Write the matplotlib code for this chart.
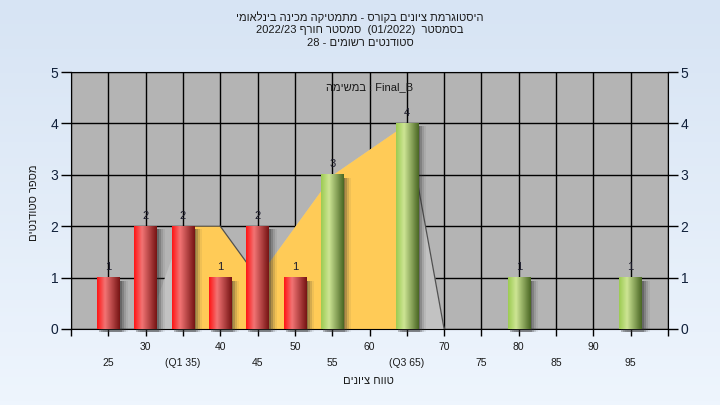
import re
import matplotlib
matplotlib.use('Agg')
import matplotlib.pyplot as plt
import numpy as np
from matplotlib.colors import LinearSegmentedColormap
from matplotlib.patches import Rectangle
from matplotlib.transforms import offset_copy

plt.rcParams['font.family'] = ['Liberation Sans', 'DejaVu Sans']

# --- data ---
title_lines = ["היסטוגרמת ציונים בקורס - מתמטיקה מכינה בינלאומי",
               "בסמסטר  (01/2022)  סמסטר חורף 2022/23",
               "סטודנטים רשומים - 28"]
series_name = "Final_B"
legend_prefix = "במשימה"
x_title = "טווח ציונים"
y_title = "מספר סטודנטים"

grades = [25, 30, 35, 40, 45, 50, 55, 60, 65, 70, 75, 80, 85, 90, 95]
counts = [1, 2, 2, 1, 2, 1, 3, 0, 4, 0, 0, 1, 0, 0, 1]
tick_labels = ['25', '30', '(Q1 35)', '40', '45', '50', '55', '60', '(Q3 65)',
               '70', '75', '80', '85', '90', '95']
q1, q3 = 35, 65
pass_grade = 55

area_x = [25, 30, 35, 40, 45, 50, 55, 60, 65, 70]
area_y = [0, 0, 2, 2, 1, 2, 3, 3.5, 4, 0]


# matplotlib has no bidi, so put hebrew into visual order by hand
LTR_RUN = re.compile(r'[0-9A-Za-z_/.]+')

def rtl(s):
    r = LTR_RUN.sub(lambda m: m.group(0)[::-1], s[::-1])
    return r.translate(str.maketrans('()', ')('))

def heb_words(s):
    return re.sub(r'[\u0590-\u05FF]+', lambda m: m.group(0)[::-1], s)


fig = plt.figure(figsize=(7.2, 4.05), dpi=100)

# background gradient
bg = fig.add_axes([0, 0, 1, 1], zorder=-10)
bg.imshow(np.linspace(0, 1, 100).reshape(-1, 1), cmap=LinearSegmentedColormap.from_list('bg', ['#d7e4f4', '#eef5fd']),
          aspect='auto', extent=(0, 1, 0, 1))
bg.axis('off')

ax = fig.add_axes([71 / 720, 1 - 329 / 405, 597 / 720, 257 / 405])
ax.set_facecolor('#b4b4b4')
ax.set_axisbelow(True)
ax.grid(True, color='black', lw=1)

# area behind the bars
ax.fill_between(area_x, area_y, color='#c2c2c2', lw=0, zorder=2)
xs = [x for x in area_x if q1 <= x <= q3]
ys = [y for x, y in zip(area_x, area_y) if q1 <= x <= q3]
ax.fill_between(xs, ys, color='#ffcb57', lw=0, zorder=2.5)
for i in range(len(area_x) - 1):
    if area_y[i + 1] < area_y[i]:
        ax.plot(area_x[i:i + 2], area_y[i:i + 2], color='#505050', lw=0.9, zorder=3)

# bars
bw = 3.0
red_cmap = LinearSegmentedColormap.from_list('r', [(0, '#ff1515'), (0.35, '#f27474'), (1, '#761414')])
green_cmap = LinearSegmentedColormap.from_list('g', [(0, '#9ccb52'), (0.35, '#cde594'), (1, '#4a6724')])
grad = np.linspace(0, 1, 64).reshape(1, -1)
for g, c in zip(grades, counts):
    if c == 0:
        continue
    x0 = g - bw / 2
    for k, a in [(2, 0.3), (4, 0.22), (6, 0.14), (8, 0.07)]:
        tr = offset_copy(ax.transData, fig=fig, x=k, y=-3, units='dots')
        ax.add_patch(Rectangle((x0, 0), bw, c, color='#303030', alpha=a, lw=0, transform=tr,
                               zorder=3.5, clip_on=False))
    cmap = green_cmap if g >= pass_grade else red_cmap
    ax.imshow(grad, cmap=cmap, extent=(x0, x0 + bw, 0, c), aspect='auto', zorder=4,
              interpolation='bilinear')
    ax.annotate(str(c), (g, c), xytext=(0, 4), textcoords='offset points', ha='center',
                va='bottom', fontsize=8, color='#1c1c2c', zorder=6)

ax.set_xlim(20, 100)
ax.set_ylim(0, 5)

xt = list(range(20, 101, 5))
xl = []
for t in xt:
    if t in grades:
        i = grades.index(t)
        xl.append(tick_labels[i] if i % 2 else '\n' + tick_labels[i])
    else:
        xl.append('')
ax.set_xticks(xt)
ax.set_xticklabels(xl, fontsize=7.5, color='#1a1a1a', linespacing=1.75)
ax.set_yticks(range(6))
ax.tick_params(axis='x', length=5, width=1, pad=4)
ax.tick_params(axis='y', length=7, width=1, labelsize=10, right=True, labelright=True, pad=2)
for lab in ax.get_yticklabels():
    lab.set_color('#10203a')
for sp in ax.spines.values():
    sp.set_color('black')

ax.text(0.5, 0.94, heb_words(legend_prefix + " : " + series_name), transform=ax.transAxes,
        ha='center', va='center', fontsize=8, color='#1a1a1a')

for k, line in enumerate(title_lines):
    fig.text(0.5, 1 - (17 + 13 * k) / 405, rtl(line), ha='center', va='center', fontsize=8,
             color='#1a1a1a')
fig.text(368 / 720, 1 - 381 / 405, rtl(x_title), ha='center', va='center', fontsize=8, color='#1a1a1a')
fig.text(34 / 720, 0.5, rtl(y_title), rotation=90, ha='center', va='center', fontsize=8, color='#1a1a1a')

fig.savefig('out.png', dpi=100)
